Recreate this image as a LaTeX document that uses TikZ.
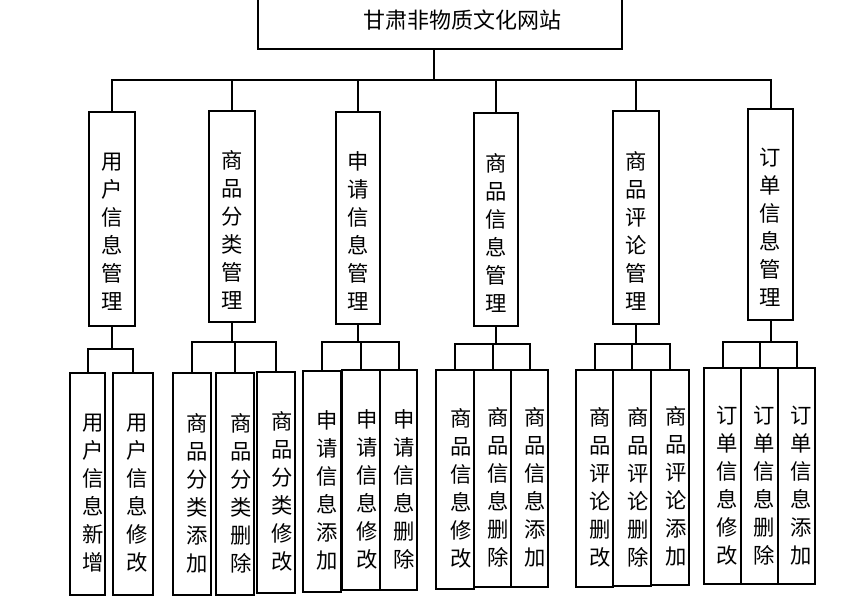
\documentclass[tikz,border=0pt]{standalone}
\usepackage{fontspec}
\newfontfamily\cjk{Noto Sans CJK SC}
\newcommand{\mybox}[8]{%
  \node[boxs, minimum width={(#4-#2)*0.75pt}, minimum height={(#5-#3)*0.75pt}] (#1) at ({(#2+#4)/2},{(#3+#5)/2}) {};
  \node[vtext] (#1-t) at ([shift={(#6,#7)}]#1.center) {#8};}
\begin{document}
\begin{tikzpicture}[x=0.75pt,y=-0.75pt,
  boxs/.style={draw, line width=1.5pt, rectangle, inner sep=0pt, fill=white},
  vtext/.style={font=\cjk\fontsize{16}{21}\selectfont, align=center, inner sep=0pt},
  conn/.style={line width=1.5pt}]
\useasboundingbox[fill=white] (0,0) rectangle (848,596);
% root
\node[boxs, minimum width={364*0.75pt}, minimum height={52*0.75pt}] (root) at (440,23) {};
\node[font=\cjk\fontsize{16.5}{20}\selectfont, inner sep=0pt] (title) at (462,20) {甘肃非物质文化网站};
% level 1
\mybox{m1}{89}{112}{135}{326}{0}{13}{用\\户\\信\\息\\管\\理}
\mybox{m2}{209}{111}{255}{322}{0}{13}{商\\品\\分\\类\\管\\理}
\mybox{m3}{336}{112}{380}{324}{0}{13}{申\\请\\信\\息\\管\\理}
\mybox{m4}{474}{113}{518}{326}{0}{13}{商\\品\\信\\息\\管\\理}
\mybox{m5}{613}{111}{659}{324}{0}{13}{商\\品\\评\\论\\管\\理}
\mybox{m6}{748}{109}{793}{320}{0}{13}{订\\单\\信\\息\\管\\理}
% level 2
\mybox{s11}{70}{373}{105}{595}{6}{9}{用\\户\\信\\息\\新\\增}
\mybox{s12}{113}{373}{153}{595}{4}{9}{用\\户\\信\\息\\修\\改}
\mybox{s21}{173}{373}{211}{595}{5}{9}{商\\品\\分\\类\\添\\加}
\mybox{s22}{216}{373}{254}{595}{6}{9}{商\\品\\分\\类\\删\\除}
\mybox{s23}{257}{372}{295}{593}{6}{9}{商\\品\\分\\类\\修\\改}
\mybox{s31}{303}{371}{341}{592}{5}{9}{申\\请\\信\\息\\添\\加}
\mybox{s32}{342}{370}{380}{590}{6}{9}{申\\请\\信\\息\\修\\改}
\mybox{s33}{380}{370}{417}{590}{6}{9}{申\\请\\信\\息\\删\\除}
\mybox{s41}{436}{370}{474}{589}{6}{9}{商\\品\\信\\息\\修\\改}
\mybox{s42}{474}{370}{511}{587}{6}{9}{商\\品\\信\\息\\删\\除}
\mybox{s43}{511}{370}{548}{587}{6}{9}{商\\品\\信\\息\\添\\加}
\mybox{s51}{576}{370}{613}{587}{6}{9}{商\\品\\评\\论\\删\\改}
\mybox{s52}{613}{370}{651}{586}{6}{9}{商\\品\\评\\论\\删\\除}
\mybox{s53}{651}{370}{689}{585}{6}{9}{商\\品\\评\\论\\添\\加}
\mybox{s61}{704}{368}{741}{584}{5}{10}{订\\单\\信\\息\\修\\改}
\mybox{s62}{741}{368}{778}{584}{5}{10}{订\\单\\信\\息\\删\\除}
\mybox{s63}{778}{368}{815}{584}{5}{10}{订\\单\\信\\息\\添\\加}
% bus levels
\coordinate (b0) at (0,80);
\coordinate (b1) at (0,349);
\coordinate (b2) at (0,342);
\coordinate (b3) at (0,342);
\coordinate (b4) at (0,344);
\coordinate (b5) at (0,344);
\coordinate (b6) at (0,342);
\coordinate (rt) at ([xshift=-4.5pt]root.south);
% connectors level 1
\foreach \m in {m1,m2,m3,m4,m5,m6}
  \draw[conn] (rt) -- (rt |- b0) -| (\m.north);
% connectors level 2
\foreach \s in {s11,s12}
  \draw[conn] (m1.south) -- (m1.south |- b1) -| (\s.north);
\foreach \s in {s21,s22,s23}
  \draw[conn] (m2.south) -- (m2.south |- b2) -| (\s.north);
\foreach \s in {s31,s32,s33}
  \draw[conn] (m3.south) -- (m3.south |- b3) -| (\s.north);
\foreach \s in {s41,s42,s43}
  \draw[conn] (m4.south) -- (m4.south |- b4) -| (\s.north);
\foreach \s in {s51,s52,s53}
  \draw[conn] (m5.south) -- (m5.south |- b5) -| (\s.north);
\foreach \s in {s61,s62,s63}
  \draw[conn] (m6.south) -- (m6.south |- b6) -| (\s.north);
\end{tikzpicture}
\end{document}
